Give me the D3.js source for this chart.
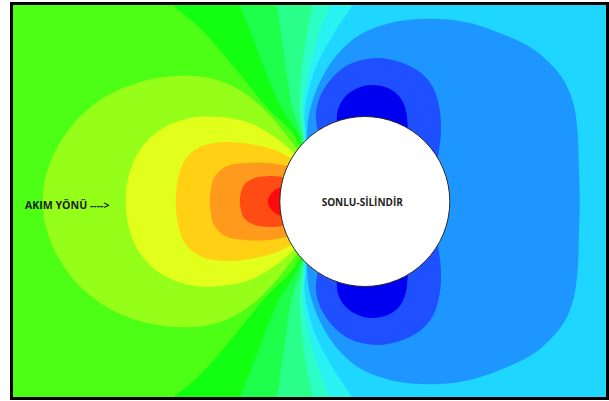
<!DOCTYPE html>
<html><head><meta charset="utf-8">
<script src="https://cdn.jsdelivr.net/npm/d3@7"></script>
<style>html,body{margin:0;padding:0;background:#fff;}svg{display:block;}</style>
</head><body>
<script>
// Coordinates in units of cylinder radius, origin at cylinder centre, y up.
// Contour bands are symmetric about y=0: only the upper half is listed.
const xDomain = [-4.14, 2.85];
const yDomain = [2.312, -2.312];
const backgroundColor = "#1ed6ff";

// Fan contours (from contact on cylinder to the top edge); region to the left is filled.
const fanNames = ["paleCyan", "aqua", "mint", "green2", "brightGreen", "green"];
const fanColors = ["#28f2f2", "#2cffc6", "#2aff8a", "#1eff4c", "#12ff12", "#4dff14"];
const fanB12 = [[-0.694,0.724],[-0.706,1.076],[-0.588,1.547],[-0.376,1.959],[-0.141,2.312],[-0.035,2.488]];
const fanB11 = [[-0.706,0.712],[-0.729,1.135],[-0.647,1.606],[-0.529,2.018],[-0.412,2.312],[-0.365,2.488]];
const fanB10 = [[-0.718,0.700],[-0.765,1.135],[-0.729,1.665],[-0.659,2.076],[-0.612,2.312],[-0.588,2.488]];
const fanB9  = [[-0.729,0.688],[-0.859,1.135],[-0.941,1.665],[-1.000,2.076],[-1.035,2.312],[-1.047,2.488]];
const fanB8  = [[-0.741,0.676],[-1.000,1.135],[-1.212,1.641],[-1.353,2.018],[-1.471,2.312],[-1.518,2.488]];
const fanB7  = [[-0.765,0.653],[-1.176,1.135],[-1.588,1.641],[-1.941,2.041],[-2.259,2.312],[-2.412,2.488]];
const fanCurves = [fanB12, fanB11, fanB10, fanB9, fanB8, fanB7];

// Closed high-pressure regions in front of the cylinder (contact -> axis)
const frontColors = ["#95ff1a", "#e2ff1c", "#ffd014", "#ff9a1c", "#ff4c14", "#ff0a0a"];
const yellowGreen = [[-0.800,0.618],[-0.941,0.806],[-1.176,1.076],[-1.471,1.312],[-1.824,1.453],[-2.235,1.476],[-2.647,1.406],[-3.059,1.229],[-3.412,0.935],[-3.647,0.582],[-3.765,0.253],[-3.788,0]];
const yellow = [[-0.835,0.571],[-1.059,0.759],[-1.353,0.924],[-1.706,0.994],[-2.059,0.982],[-2.412,0.841],[-2.647,0.606],[-2.776,0.312],[-2.812,0]];
const yellowOrange = [[-0.871,0.512],[-1.059,0.606],[-1.353,0.676],[-1.647,0.700],[-1.941,0.641],[-2.118,0.488],[-2.200,0.253],[-2.224,0]];
const orange = [[-0.918,0.418],[-1.118,0.453],[-1.412,0.453],[-1.647,0.406],[-1.776,0.276],[-1.812,0.135],[-1.824,0]];
const redOrange = [[-0.965,0.288],[-1.118,0.300],[-1.294,0.276],[-1.412,0.206],[-1.459,0.100],[-1.471,0]];
const red = [[-0.988,0.171],[-1.047,0.141],[-1.106,0.088],[-1.141,0]];
const frontRegions = [yellowGreen, yellow, yellowOrange, orange, redOrange, red];

// Low-pressure regions (blue) around and behind the cylinder
const blueColors = ["#1e96ff", "#1e50ff", "#0000f0"];
const blueWake = [[-0.682,0.735],[-0.671,0.935],[-0.624,1.159],[-0.529,1.406],[-0.376,1.665],[-0.176,1.876],[0.024,2.006],[0.412,2.124],[0.882,2.147],[1.235,2.100],[1.588,1.982],[1.941,1.818],[2.176,1.629],[2.353,1.406],[2.459,1.135],[2.506,0.782],[2.518,0.429],[2.529,0]];
const darkBlueLobe = [[-0.553,0.829],[-0.576,1.018],[-0.529,1.229],[-0.376,1.465],[-0.176,1.618],[0.141,1.688],[0.412,1.641],[0.647,1.524],[0.800,1.347],[0.882,1.076],[0.894,0.782],[0.859,0.512]];
const deepBlueLobe = [[-0.329,0.935],[-0.318,1.076],[-0.235,1.229],[-0.082,1.335],[0.082,1.371],[0.271,1.335],[0.412,1.229],[0.482,1.076],[0.506,0.865]];

const labelTexts = ["AKIM YÖNÜ ---->", "SONLU-SİLİNDİR"];
const labelX = [-4.0, -0.03];
const labelY = [-0.04, 0.0];

const W = 609, H = 401;
const plot = {left: 13, right: 607, top: 5, bottom: 398};
const x = d3.scaleLinear().domain(xDomain).range([plot.left, plot.right]);
const y = d3.scaleLinear().domain(yDomain).range([plot.top, plot.bottom]);

const svg = d3.select("body").append("svg").attr("width", W).attr("height", H);
svg.append("rect").attr("width", W).attr("height", H).attr("fill", "#fff");
svg.append("clipPath").attr("id", "clip").append("rect")
  .attr("x", plot.left).attr("y", plot.top)
  .attr("width", plot.right - plot.left).attr("height", plot.bottom - plot.top);

const g = svg.append("g").attr("clip-path", "url(#clip)");
const line = d3.line().x(d => x(d[0])).y(d => y(d[1])).curve(d3.curveCatmullRom.alpha(0.5));
const mirror = pts => pts.map(p => [p[0], -p[1]]);

g.append("rect").attr("x", plot.left).attr("y", plot.top)
  .attr("width", plot.right - plot.left).attr("height", plot.bottom - plot.top)
  .attr("fill", backgroundColor);

// Fan regions (everything to the left of each contour)
fanCurves.forEach((c, i) => {
  const pts = c.slice().reverse().concat(mirror(c));
  const first = pts[0], last = pts[pts.length - 1];
  const d = `M${x(-6)},${y(first[1])}` + line(pts).replace(/^M/, "L") + `L${x(-6)},${y(last[1])}Z`;
  g.append("path").attr("d", d).attr("fill", fanColors[i]);
});

// Closed front regions
frontRegions.forEach((c, i) => {
  const pts = c.concat(mirror(c).reverse().slice(1));
  g.append("path").attr("d", line(pts) + "Z").attr("fill", frontColors[i]);
});

// Blue regions
{
  const pts = blueWake.concat(mirror(blueWake).reverse().slice(1));
  g.append("path").attr("d", line(pts) + "Z").attr("fill", blueColors[0]);
}
[darkBlueLobe, deepBlueLobe].forEach((c, i) => {
  g.append("path").attr("d", line(c) + "Z").attr("fill", blueColors[i + 1]);
  g.append("path").attr("d", line(mirror(c)) + "Z").attr("fill", blueColors[i + 1]);
});

// Cylinder
g.append("ellipse")
  .attr("cx", x(0)).attr("cy", y(0))
  .attr("rx", x(1) - x(0)).attr("ry", y(0) - y(1))
  .attr("fill", "#fff").attr("stroke", "#2a2a2a").attr("stroke-width", 1);

// Labels
const labelSizes = [10.6, 10];
svg.selectAll("text.lbl").data(labelTexts).enter().append("text")
  .attr("class", "lbl")
  .attr("x", (d, i) => x(labelX[i])).attr("y", (d, i) => y(labelY[i]))
  .attr("text-anchor", (d, i) => i === 0 ? "start" : "middle")
  .attr("dominant-baseline", "central")
  .attr("font-family", "'Open Sans', sans-serif")
  .attr("font-weight", 700).attr("font-size", (d, i) => labelSizes[i])
  .attr("fill", "#1e1e1e")
  .text(d => d);

// Frame
svg.append("rect").attr("x", 11.5).attr("y", 3.5).attr("width", 596).attr("height", 395)
  .attr("fill", "none").attr("stroke", "#000").attr("stroke-width", 3);
</script>
</body></html>
